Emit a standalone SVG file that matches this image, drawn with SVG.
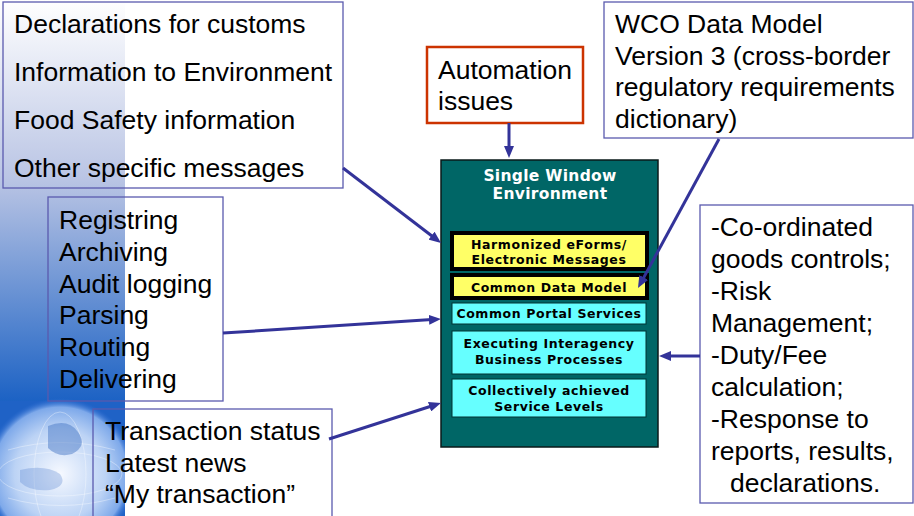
<svg xmlns="http://www.w3.org/2000/svg" width="914" height="516" viewBox="0 0 914 516">
  <style>
    .note { fill: none; stroke: #5a5aae; stroke-width: 1.3; }
    .txt { font-family: "Liberation Sans", Arial, sans-serif; font-size: 26.5px; fill: #000; }
    .sw { font-family: "DejaVu Sans", Verdana, sans-serif; font-weight: bold; text-anchor: middle; }
    .title { font-size: 15.5px; fill: #ffffff; letter-spacing: 0.3px; }
    .inner { font-size: 12.5px; fill: #000; letter-spacing: 0.6px; }
    .cyan { fill: #66ffff; stroke: #003333; stroke-width: 1; }
    .yel { fill: #ffff66; }
    .conn { stroke: #333399; stroke-width: 3; fill: none; marker-end: url(#head); }
  </style>
  <defs>
    <linearGradient id="strip" x1="0" y1="0" x2="0" y2="1">
      <stop offset="0" stop-color="#ffffff"/>
      <stop offset="0.45" stop-color="#b9c4e4"/>
      <stop offset="1" stop-color="#1c62c4"/>
    </linearGradient>
    <radialGradient id="globe" cx="0.5" cy="0.5" r="0.5">
      <stop offset="0" stop-color="#f6f9ff"/>
      <stop offset="0.6" stop-color="#bcd3f5"/>
      <stop offset="0.88" stop-color="#7ea9ea"/>
      <stop offset="1" stop-color="#2b6ad0" stop-opacity="0"/>
    </radialGradient>
    <clipPath id="stripClip">
      <rect x="0" y="0" width="125" height="516"/>
    </clipPath>
    <marker id="head" viewBox="0 0 12 10" refX="3" refY="5" markerWidth="12" markerHeight="10" markerUnits="userSpaceOnUse" orient="auto">
      <path d="M0,0 L12,5 L0,10 z" fill="#333399"/>
    </marker>
  </defs>

  <!-- background -->
  <rect x="0" y="0" width="914" height="516" fill="#ffffff"/>
  <g id="backdrop" clip-path="url(#stripClip)">
    <rect x="0" y="0" width="125" height="401" fill="url(#strip)"/>
    <rect x="0" y="401" width="125" height="115" fill="#1f62c6"/>
    <circle cx="60" cy="474" r="76" fill="url(#globe)"/>
    <g stroke="#ffffff" stroke-opacity="0.35" stroke-width="1" fill="none">
      <ellipse cx="60" cy="474" rx="62" ry="22"/>
      <ellipse cx="60" cy="474" rx="26" ry="62"/>
      <path d="M8,450 Q60,435 115,450"/>
      <path d="M8,498 Q60,513 115,498"/>
    </g>
    <path d="M48,426 q20,-8 30,6 q10,14 -6,22 q-14,4 -24,-6 z" fill="#3b6fc0" fill-opacity="0.45"/>
    <path d="M20,470 q25,-6 40,4 q8,12 -10,16 q-20,2 -30,-8 z" fill="#4f7fcc" fill-opacity="0.3"/>
  </g>

  <!-- message types -->
  <g id="messages">
    <rect class="note" x="3" y="2" width="340" height="186"/>
    <text class="txt" x="14" y="33">Declarations for customs</text>
    <text class="txt" x="14" y="81">Information to Environment</text>
    <text class="txt" x="14" y="129">Food Safety information</text>
    <text class="txt" x="14" y="177">Other specific messages</text>
  </g>

  <!-- portal functions -->
  <g id="functions">
    <rect class="note" x="48" y="197" width="175" height="204"/>
    <text class="txt" x="59" y="229">Registring</text>
    <text class="txt" x="59" y="261">Archiving</text>
    <text class="txt" x="59" y="292.5">Audit logging</text>
    <text class="txt" x="59" y="324">Parsing</text>
    <text class="txt" x="59" y="356">Routing</text>
    <text class="txt" x="59" y="387.5">Delivering</text>
  </g>

  <!-- transaction info -->
  <g id="transactions">
    <rect class="note" x="93" y="409" width="239" height="120"/>
    <text class="txt" x="105" y="440">Transaction status</text>
    <text class="txt" x="105" y="472">Latest news</text>
    <text class="txt" x="105" y="503">“My transaction”</text>
  </g>

  <!-- automation issues -->
  <g id="automation">
    <rect x="427" y="47" width="156" height="76" fill="#ffffff" stroke="#cc3300" stroke-width="2.5"/>
    <text class="txt" x="438" y="79">Automation</text>
    <text class="txt" x="438" y="110">issues</text>
  </g>

  <!-- data model -->
  <g id="wco">
    <rect class="note" x="604" y="2" width="309" height="136"/>
    <text class="txt" x="615" y="33">WCO Data Model</text>
    <text class="txt" x="615" y="64.5">Version 3 (cross-border</text>
    <text class="txt" x="615" y="96">regulatory requirements</text>
    <text class="txt" x="615" y="127.5">dictionary)</text>
  </g>

  <!-- controls -->
  <g id="controls">
    <rect class="note" x="700" y="205" width="213" height="298"/>
    <text class="txt" x="711" y="236">-Co-ordinated</text>
    <text class="txt" x="711" y="268">goods controls;</text>
    <text class="txt" x="711" y="300">-Risk</text>
    <text class="txt" x="711" y="332">Management;</text>
    <text class="txt" x="711" y="364">-Duty/Fee</text>
    <text class="txt" x="711" y="396">calculation;</text>
    <text class="txt" x="711" y="428">-Response to</text>
    <text class="txt" x="711" y="460">reports, results,</text>
    <text class="txt" x="730" y="492">declarations.</text>
  </g>

  <!-- single window -->
  <g id="single-window">
    <rect x="441" y="160" width="217" height="287" fill="#006666" stroke="#0a1a1a" stroke-width="1.5"/>
    <text class="sw title" x="550" y="181">Single Window</text>
    <text class="sw title" x="550" y="199">Environment</text>
  </g>
  <g id="eforms">
    <rect x="450" y="231" width="199" height="40" fill="#000000"/>
    <rect class="yel" x="454" y="235" width="191" height="32"/>
    <text class="sw inner" x="549" y="249">Harmonized eForms/</text>
    <text class="sw inner" x="549" y="264">Electronic Messages</text>
  </g>
  <g id="data-model">
    <rect x="450" y="273" width="199" height="27" fill="#000000"/>
    <rect class="yel" x="454" y="277" width="191" height="19"/>
    <text class="sw inner" x="549" y="292">Common Data Model</text>
  </g>
  <g id="portal">
    <rect class="cyan" x="452" y="303" width="194" height="21"/>
    <text class="sw inner" x="549" y="318">Common Portal Services</text>
  </g>
  <g id="processes">
    <rect class="cyan" x="452" y="331" width="194" height="43"/>
    <text class="sw inner" x="549" y="348">Executing Interagency</text>
    <text class="sw inner" x="549" y="364">Business Processes</text>
  </g>
  <g id="service-levels">
    <rect class="cyan" x="452" y="379" width="194" height="38"/>
    <text class="sw inner" x="549" y="395">Collectively achieved</text>
    <text class="sw inner" x="549" y="411">Service Levels</text>
  </g>

  <!-- connectors -->
  <g id="connectors">
    <path class="conn" d="M343,168 L433.9,237.5"/>
    <path class="conn" d="M223,333 L432,319.6"/>
    <path class="conn" d="M329,439 L432.4,405.8"/>
    <path class="conn" d="M719,139 L642.3,280.1"/>
    <path class="conn" d="M700,356 L668,356"/>
    <path class="conn" d="M509,123 L509,149"/>
  </g>
</svg>
